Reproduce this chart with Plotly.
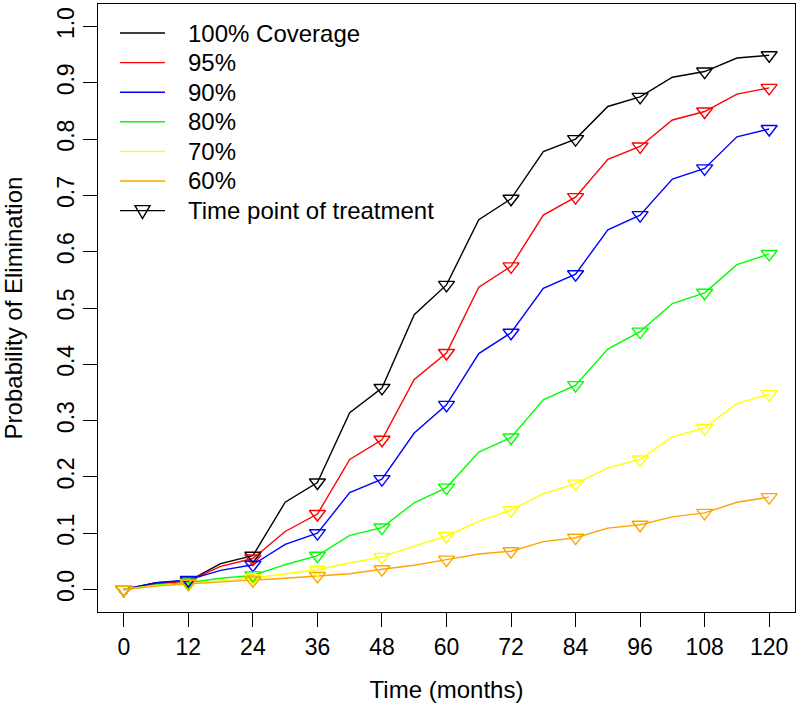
import plotly.graph_objects as go

months = list(range(0, 121, 6))

cov100 = [0, 0.012, 0.015, 0.046, 0.06, 0.155, 0.19, 0.314, 0.358, 0.488, 0.541, 0.657, 0.694,
          0.778, 0.80, 0.858, 0.875, 0.91, 0.92, 0.944, 0.949]
cov95 = [0, 0.010, 0.015, 0.041, 0.055, 0.103, 0.134, 0.231, 0.266, 0.373, 0.42, 0.537, 0.574,
         0.665, 0.697, 0.764, 0.787, 0.834, 0.849, 0.880, 0.891]
cov90 = [0, 0.012, 0.017, 0.034, 0.044, 0.08, 0.10, 0.172, 0.196, 0.278, 0.328, 0.419, 0.456,
         0.535, 0.560, 0.639, 0.665, 0.729, 0.748, 0.804, 0.818]
cov80 = [0, 0.008, 0.012, 0.020, 0.025, 0.044, 0.060, 0.096, 0.110, 0.154, 0.181, 0.244, 0.270,
         0.337, 0.363, 0.427, 0.458, 0.508, 0.527, 0.577, 0.596]
cov70 = [0, 0.007, 0.010, 0.015, 0.020, 0.028, 0.035, 0.047, 0.058, 0.077, 0.095, 0.121, 0.141,
         0.170, 0.188, 0.216, 0.231, 0.271, 0.287, 0.330, 0.347]
cov60 = [0, 0.006, 0.010, 0.013, 0.016, 0.020, 0.024, 0.028, 0.036, 0.043, 0.053, 0.063, 0.068,
         0.085, 0.092, 0.109, 0.115, 0.129, 0.136, 0.155, 0.164]

series_names = ["100% Coverage", "95%", "90%", "80%", "70%", "60%"]
series_values = [cov100, cov95, cov90, cov80, cov70, cov60]
series_colors = ["#000000", "#FF0000", "#0000FF", "#00FF00", "#FFFF00", "#FFA500"]
marker_label = "Time point of treatment"

x_ticks = list(range(0, 121, 12))
y_ticks = [round(i * 0.1, 1) for i in range(11)]

FONT = "Liberation Sans, Arial, Helvetica, sans-serif"
W, H = 800, 707
ML, MR, MT, MB = 98, 5, 4, 95
PW, PH = W - ML - MR, H - MT - MB


def px_to_paper(px, py):
    return (px - ML) / PW, (H - MB - py) / PH


fig = go.Figure()
for name, vals, col in zip(series_names, series_values, series_colors):
    fig.add_trace(go.Scatter(x=months, y=vals, mode="lines", name=name, showlegend=False,
                             line=dict(color=col, width=1.4)))
for name, vals, col in zip(series_names, series_values, series_colors):
    tx = [m for m in months if m % 12 == 0]
    ty = [v for m, v in zip(months, vals) if m % 12 == 0]
    fig.add_trace(go.Scatter(x=tx, y=ty, mode="markers", showlegend=False,
                             marker=dict(symbol="triangle-down-open", size=14,
                                         color=col, line=dict(color=col, width=1.4))))

# legend (drawn in paper space, no box as in the original)
legend_labels = series_names + [marker_label]
legend_colors = series_colors + ["#000000"]
row0, row_gap = 33, 29.6
shapes, annotations = [], []
for i, (lab, col) in enumerate(zip(legend_labels, legend_colors)):
    py = row0 + i * row_gap
    x0, y0 = px_to_paper(120, py)
    x1, _ = px_to_paper(165, py)
    shapes.append(dict(type="line", xref="paper", yref="paper", x0=x0, x1=x1, y0=y0, y1=y0,
                       line=dict(color=col, width=1.4)))
    tx, _ = px_to_paper(186, py)
    annotations.append(dict(text=lab, xref="paper", yref="paper", x=tx, y=y0,
                            xanchor="left", yanchor="middle", showarrow=False,
                            font=dict(size=24, color="black")))
# triangle symbol in the last legend row
py = row0 + 6 * row_gap
ax, ay = px_to_paper(135, py - 5)
bx, by = px_to_paper(150, py - 5)
cx, cy = px_to_paper(142.5, py + 8)
shapes.append(dict(type="path", xref="paper", yref="paper",
                   path=f"M {ax},{ay} L {bx},{by} L {cx},{cy} Z",
                   line=dict(color="#000000", width=1.4), fillcolor="rgba(0,0,0,0)"))

fig.update_layout(
    width=W, height=H,
    margin=dict(l=ML, r=MR, t=MT, b=MB),
    paper_bgcolor="white", plot_bgcolor="white",
    font=dict(family=FONT, size=23, color="black"),
    showlegend=False,
    shapes=shapes, annotations=annotations,
    xaxis=dict(range=[-4.8, 124.8], tickvals=x_ticks, ticktext=[str(t) for t in x_ticks],
               showgrid=False, zeroline=False, showline=True, mirror=True,
               linecolor="black", linewidth=1.3, ticks="outside", ticklen=14,
               tickwidth=1.3, tickcolor="black", tickfont=dict(size=23),
               title=dict(text="Time (months)", standoff=22, font=dict(size=24))),
    yaxis=dict(range=[-0.04, 1.04], tickvals=y_ticks, ticktext=[f"{t:.1f}" for t in y_ticks],
               tickangle=-90,
               showgrid=False, zeroline=False, showline=True, mirror=True,
               linecolor="black", linewidth=1.3, ticks="outside", ticklen=14,
               tickwidth=1.3, tickcolor="black", tickfont=dict(size=23),
               title=dict(text="Probability of Elimination", standoff=24, font=dict(size=24))),
)

fig.write_html("out.html", config={"displayModeBar": False},
               post_script="document.body.style.margin='0';document.body.style.overflow='hidden';")
